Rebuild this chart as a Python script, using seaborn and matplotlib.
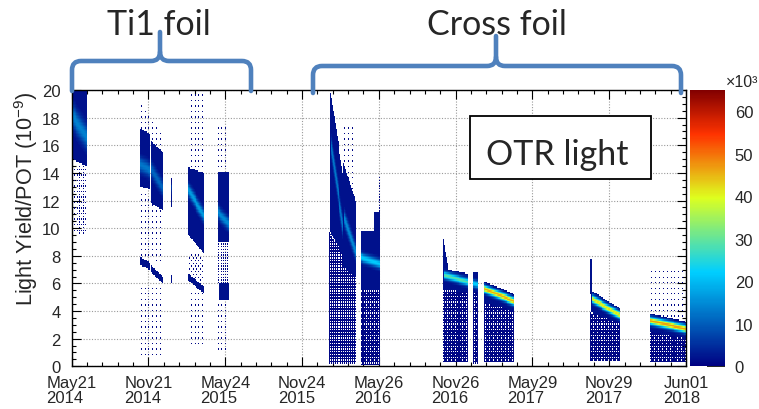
import numpy as np
import matplotlib
matplotlib.use("Agg")
import matplotlib.pyplot as plt
import seaborn as sns
from matplotlib.colors import LinearSegmentedColormap
from matplotlib.path import Path
from matplotlib.patches import PathPatch, Rectangle
from matplotlib.ticker import MultipleLocator

# ---------------------------------------------------------------- data
# time axis: days since 2014-05-21, ticks every 184 days
tick_days = [0, 184, 368, 552, 736, 920, 1104, 1288, 1472]
tick_labels = ["May21\n2014", "Nov21\n2014", "May24\n2015", "Nov24\n2015",
               "May26\n2016", "Nov26\n2016", "May29\n2017", "Nov29\n2017",
               "Jun01\n2018"]

# core of the light-yield band in each beam period (entries in 10^3)
band_start   = [0,    164,  191,  236,  279,  349,  621,  653,  692, 893, 962, 990, 1246, 1387]
band_end     = [36,   189,  218,  240,  317,  377,  651,  680,  739, 950, 974, 1060, 1313, 1472]
band_y_start = [18.2, 14.6, 14.3, 13.4, 12.8, 11.2, 16.0, 10.8, 7.9, 6.6, 6.0, 5.6, 4.9, 3.3]
band_y_end   = [16.6, 14.2, 12.9, 12.6, 10.9, 10.3, 10.0, 8.3,  7.4, 6.1, 5.9, 4.7, 3.7, 2.7]
band_peak    = [12,   11,   9,    4,    15,   13,   11,   13,   20,  27,  20,  44,  40,  45]
band_sigma   = [0.55, 0.35, 0.35, 0.3,  0.3,  0.3,  0.45, 0.35, 0.22, 0.18, 0.18, 0.18, 0.18, 0.18]

# densely populated regions around each band
dense_start     = [0,  164, 164, 191,  191, 236,  236, 279,  279, 349,  353, 619,  651, 692, 725,  889, 889, 962, 990, 1242, 1244, 1387]
dense_end       = [36, 189, 189, 218,  218, 240,  240, 317,  317, 377,  377, 651,  680, 739, 739,  902, 950, 974, 1060, 1247, 1313, 1472]
dense_top_start = [20, 17.2, 7.9, 16.3, 7.3, 14.8, 6.6, 14.4, 6.7, 14.1, 6.0, 20.0, 14.8, 9.8, 11.2, 9.6, 7.1, 6.8, 6.0, 7.8, 5.5, 3.8]
dense_top_end   = [20, 16.8, 7.5, 15.5, 6.5, 11.5, 6.6, 14.0, 5.8, 14.1, 6.0, 13.8, 12.0, 9.8, 11.2, 7.2, 6.7, 6.8, 5.1, 7.8, 4.2, 3.1]
dense_bot_start = [15, 13.0, 7.3, 11.8, 6.8, 11.5, 6.0, 9.5,  6.2, 9.0,  4.8, 9.7,  7.2, 5.5, 9.8,  5.8, 5.5, 5.4, 4.6, 5.2, 3.9, 2.5]
dense_bot_end   = [14.5, 12.8, 7.0, 11.3, 6.0, 11.5, 6.0, 8.2, 5.3, 9.0,  4.8, 8.0,  6.5, 5.5, 9.8,  5.8, 5.4, 5.4, 4.0, 5.2, 3.1, 2.0]

# scattered entries (fill out of 16)
sparse_start     = [0,    164,  164,  164, 279, 279, 279, 349,  349, 349, 617, 651,  651, 692, 735,  889, 962, 990, 1242, 1387, 1387]
sparse_end       = [34,   218,  218,  218, 317, 317, 317, 377,  377, 377, 651, 680,  680, 739, 739,  950, 974, 1060, 1313, 1472, 1472]
sparse_top_start = [14.5, 19.0, 12.8, 6.0, 20,  8.2, 5.3, 17.5, 9.0, 4.8, 9.7, 17.5, 7.2, 5.5, 13.7, 5.8, 5.4, 4.6, 3.9,  2.5,  7.0]
sparse_top_end   = [14.5, 17.0, 11.3, 6.0, 20,  8.0, 5.3, 17.5, 9.0, 4.8, 8.0, 17.5, 6.5, 5.5, 13.7, 5.5, 5.4, 4.0, 3.1,  2.0,  7.0]
sparse_bot_start = [9.5,  16.5, 8.0,  0.5, 14.4, 6.7, 1.5, 14.1, 6.0, 1.0, 0.2, 14.8, 0.2, 0.1, 11.2, 0.3, 0.2, 0.3, 0.4,  0.3,  3.8]
sparse_bot_end   = [9.5,  15.5, 7.5,  0.5, 14.0, 6.0, 1.5, 14.1, 6.0, 1.0, 0.2, 12.0, 0.2, 0.1, 11.2, 0.3, 0.2, 0.3, 0.4,  0.3,  3.3]
sparse_fill      = [3,    1,    1,    1,   1,   2,   1,   1,    4,   1,   12,  1,    12,  13,  3,    13,  13,  13,  13,   13,   1]

# ---------------------------------------------------------------- histogram
x_edges = np.linspace(0, 1472, 641)
y_edges = np.linspace(0, 20, 201)
xc = 0.5 * (x_edges[:-1] + x_edges[1:])
yc = 0.5 * (y_edges[:-1] + y_edges[1:])
H = np.zeros((xc.size, yc.size))
I, J = np.meshgrid(np.arange(xc.size), np.arange(yc.size), indexing="ij")
bayer = np.array([[0, 8, 2, 10], [12, 4, 14, 6], [3, 11, 1, 9], [15, 7, 13, 5]])
dither = bayer[I % 4, J % 4]


def region_mask(t0, t1, top0, top1, bot0, bot1):
    frac = np.clip((xc - t0) / max(t1 - t0, 1e-9), 0, 1)
    top = top0 + (top1 - top0) * frac
    bot = bot0 + (bot1 - bot0) * frac
    inside_t = (xc >= t0) & (xc <= t1)
    return inside_t[:, None] & (yc[None, :] >= bot[:, None]) & (yc[None, :] <= top[:, None])


for k in range(len(sparse_start)):
    m = region_mask(sparse_start[k], sparse_end[k], sparse_top_start[k],
                    sparse_top_end[k], sparse_bot_start[k], sparse_bot_end[k])
    m &= dither < sparse_fill[k]
    H[m] = np.maximum(H[m], 1.0)

for k in range(len(dense_start)):
    m = region_mask(dense_start[k], dense_end[k], dense_top_start[k],
                    dense_top_end[k], dense_bot_start[k], dense_bot_end[k])
    H[m] = np.maximum(H[m], 1.8)

for k in range(len(band_start)):
    t0, t1 = band_start[k], band_end[k]
    sel = (xc >= t0) & (xc <= t1)
    frac = (xc[sel] - t0) / (t1 - t0)
    centre = band_y_start[k] + (band_y_end[k] - band_y_start[k]) * frac
    prof = band_peak[k] * np.exp(-0.5 * ((yc[None, :] - centre[:, None]) / band_sigma[k]) ** 2)
    prof[prof < 0.6] = 0
    H[sel] = H[sel] + prof

X, Y = np.meshgrid(xc, yc, indexing="ij")
keep = H > 0
xs, ys, ws = X[keep], Y[keep], H[keep]

# ---------------------------------------------------------------- style
sns.set_style("ticks")
plt.rcParams["font.family"] = ["Liberation Sans", "DejaVu Sans"]
plt.rcParams["mathtext.fontset"] = "custom"
plt.rcParams["mathtext.rm"] = "Liberation Sans"
plt.rcParams["mathtext.it"] = "Liberation Sans:italic"

palette = LinearSegmentedColormap.from_list(
    "rainbow_root",
    [(0.00, (0.00, 0.00, 0.51)), (0.34, (0.00, 0.81, 1.00)),
     (0.61, (0.87, 1.00, 0.12)), (0.84, (1.00, 0.20, 0.00)),
     (1.00, (0.51, 0.00, 0.00))])

W, Hpx = 759, 410
fig = plt.figure(figsize=(W / 100, Hpx / 100), dpi=100)
ax_l, ax_r, ax_t, ax_b = 71.7, 686.0, 91.0, 367.3
ax = fig.add_axes([ax_l / W, 1 - ax_b / Hpx, (ax_r - ax_l) / W, (ax_b - ax_t) / Hpx])
cax = fig.add_axes([690 / W, 1 - ax_b / Hpx, 35 / W, (ax_b - ax_t) / Hpx])

sns.histplot(x=xs, y=ys, weights=ws, bins=[x_edges, y_edges], cmap=palette,
             vmin=0, vmax=65, thresh=0, ax=ax, cbar=False)
mesh = ax.collections[0]
mesh.set_clim(0, 65)

ax.set_xlim(0, 1472)
ax.set_ylim(0, 20)
ax.set_xlabel("")
ax.set_ylabel("Light Yield/POT (10$^{-9}$)", fontsize=15.6)
# title right-aligned at the top end of the axis
ax.yaxis.set_label_coords((26 - ax_l) / (ax_r - ax_l), 1.0)
ax.yaxis.label.set_horizontalalignment("right")
ax.yaxis.label.set_verticalalignment("center")
ax.set_xticks(tick_days)
ax.set_xticklabels(tick_labels, linespacing=1.0)
for lab in ax.get_xticklabels():
    lab.set_multialignment("left")
ax.set_yticks(np.arange(0, 21, 2))
ax.xaxis.set_minor_locator(MultipleLocator(184 / 5))
ax.yaxis.set_minor_locator(MultipleLocator(0.5))
ax.tick_params(which="both", direction="in", top=True, right=True, width=0.8, color="black")
ax.tick_params(which="major", length=6.5)
ax.tick_params(which="minor", length=3.2)
ax.tick_params(axis="x", labelsize=12, pad=6.5)
ax.tick_params(axis="y", labelsize=12, pad=8)
ax.grid(True, which="major", linestyle=(0, (1, 1.5)), color="#9a9a9a", linewidth=0.8)
ax.set_axisbelow(True)
for s in ax.spines.values():
    s.set_color("black")
    s.set_linewidth(1.0)

cb = fig.colorbar(mesh, cax=cax)
cb.set_ticks(np.arange(0, 61, 10))
cb.outline.set_visible(False)
cax.tick_params(direction="in", length=13, width=1.2, color="black", labelsize=12, pad=7)
fig.text(726 / W, 1 - 87 / Hpx, "×10³", fontsize=11.5, ha="left", va="baseline")

# ---------------------------------------------------------------- annotations
brace_color = "#4f81bd"


def px(x, y):
    return (x / W, 1 - y / Hpx)


def brace(x0, x1, xm, y_bottom, y_bar, y_peak, r=9):
    left = [px(x0, y_bottom), px(x0, y_bar + r), px(x0, y_bar), px(x0 + r, y_bar),
            px(xm - r, y_bar), px(xm, y_bar), px(xm, y_bar - r), px(xm, y_peak)]
    right = [px(xm, y_bar - r), px(xm, y_bar), px(xm + r, y_bar), px(x1 - r, y_bar),
             px(x1, y_bar), px(x1, y_bar + r), px(x1, y_bottom)]
    codes_l = [Path.MOVETO, Path.LINETO, Path.CURVE3, Path.CURVE3, Path.LINETO,
               Path.CURVE3, Path.CURVE3, Path.LINETO]
    codes_r = [Path.MOVETO, Path.CURVE3, Path.CURVE3, Path.LINETO, Path.CURVE3,
               Path.CURVE3, Path.LINETO]
    for verts, codes in ((left, codes_l), (right, codes_r)):
        patch = PathPatch(Path(verts, codes), facecolor="none", edgecolor=brace_color,
                          linewidth=3.3, capstyle="round", joinstyle="round",
                          transform=fig.transFigure, zorder=10)
        fig.add_artist(patch)


brace(72, 251, 160, 92, 62, 33)
brace(313, 681, 496, 94, 67, 37)

title_font = ["Lato", "DejaVu Sans"]
fig.text(159 / W, 1 - 35 / Hpx, "Ti1 foil", fontsize=24.5, family=title_font,
         ha="center", va="baseline")
fig.text(497 / W, 1 - 35 / Hpx, "Cross foil", fontsize=24.5, family=title_font,
         ha="center", va="baseline")

box = Rectangle(px(470, 180), (650.7 - 470) / W, (180 - 116.7) / Hpx,
                transform=fig.transFigure, facecolor="white", edgecolor="black",
                linewidth=1.3, zorder=9)
fig.add_artist(box)
fig.text(557.5 / W, 1 - 165 / Hpx, "OTR light", fontsize=24.5, family=title_font,
         ha="center", va="baseline", zorder=11)

fig.savefig("out.png", dpi=100)
